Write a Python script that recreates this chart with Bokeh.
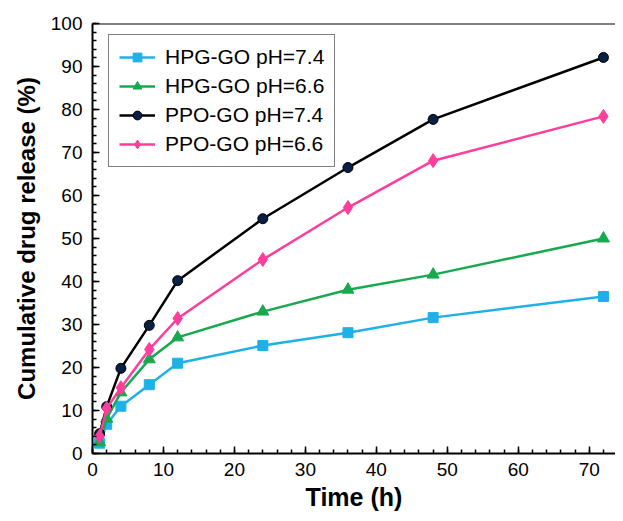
from bokeh.plotting import figure
from bokeh.models import Range1d, SingleIntervalTicker, Span, Legend, LegendItem
from bokeh.embed import file_html
from bokeh.resources import INLINE

time_h = [1, 2, 4, 8, 12, 24, 36, 48, 72]
hpg_74 = [2.4, 6.8, 11.0, 16.0, 21.0, 25.1, 28.1, 31.6, 36.5]
hpg_66 = [2.6, 8.1, 14.2, 21.9, 27.0, 33.0, 38.1, 41.6, 50.0]
ppo_74 = [4.6, 10.9, 19.8, 29.8, 40.2, 54.6, 66.5, 77.7, 92.1]
ppo_66 = [4.0, 10.5, 15.3, 24.2, 31.4, 45.1, 57.2, 68.1, 78.4]
labels = ["HPG-GO pH=7.4", "HPG-GO pH=6.6", "PPO-GO pH=7.4", "PPO-GO pH=6.6"]
x_title = "Time (h)"
y_title = "Cumulative drug release (%)"

FONT = "Liberation Sans"

p = figure(width=615, height=513, output_backend="svg", toolbar_location=None,
           x_range=Range1d(0, 73.7), y_range=Range1d(0, 100),
           min_border_left=92, min_border_right=0, min_border_top=23, min_border_bottom=60)
p.outline_line_color = None
p.xgrid.visible = False
p.ygrid.visible = False
p.background_fill_color = "white"

for ax in (p.xaxis[0], p.yaxis[0]):
    ax.ticker = SingleIntervalTicker(interval=10, num_minor_ticks=5)
    ax.major_tick_in = 7
    ax.major_tick_out = 0
    ax.minor_tick_in = 4
    ax.minor_tick_out = 0
    ax.axis_line_width = 2
    ax.major_tick_line_width = 1.5
    ax.minor_tick_line_width = 1.5
    ax.major_label_text_font = FONT
    ax.major_label_text_font_size = "19px"
    ax.major_label_text_color = "black"
    ax.axis_label_text_font = FONT
    ax.axis_label_text_font_style = "bold"
    ax.axis_label_text_color = "black"

p.xaxis.axis_label = x_title
p.yaxis.axis_label = y_title
p.xaxis.axis_label_text_font_size = "25px"
p.yaxis.axis_label_text_font_size = "24px"
p.xaxis.major_label_standoff = 9
p.xaxis.axis_label_standoff = 4
p.yaxis.major_label_standoff = 10
p.yaxis.axis_label_standoff = 8

p.add_layout(Span(location=100, dimension="width", line_color="black", line_width=2))

blue = "#1FB0E8"
green = "#17A94D"
pink = "#FF3E9B"

l1 = p.line(time_h, hpg_74, line_color=blue, line_width=2.5)
m1 = p.scatter(time_h, hpg_74, marker="square", size=10, fill_color=blue, line_color=blue)
l2 = p.line(time_h, hpg_66, line_color=green, line_width=2.5)
m2 = p.scatter(time_h, hpg_66, marker="triangle", size=12, fill_color=green, line_color=green)
l3 = p.line(time_h, ppo_74, line_color="black", line_width=2.5)
m3 = p.scatter(time_h, ppo_74, marker="circle", size=10, fill_color="#0A1F44", line_color="black")
l4 = p.line(time_h, ppo_66, line_color=pink, line_width=2.5)
m4 = p.scatter(time_h, ppo_66, marker="diamond", size=14, fill_color=pink, line_color=pink)

legend = Legend(items=[
    LegendItem(label=labels[0], renderers=[l1, m1]),
    LegendItem(label=labels[1], renderers=[l2, m2]),
    LegendItem(label=labels[2], renderers=[l3, m3]),
    LegendItem(label=labels[3], renderers=[l4, m4]),
], location=(16, 286))
legend.border_line_color = "black"
legend.border_line_width = 1
legend.background_fill_alpha = 1
legend.padding = 10
legend.spacing = 5
legend.glyph_height = 22
legend.glyph_width = 36
legend.label_standoff = 10
legend.label_text_font = FONT
legend.label_text_font_size = "21px"
legend.label_text_color = "black"
legend.margin = 0
p.add_layout(legend, "center")

open("out.html", "w").write(file_html(p, INLINE))
